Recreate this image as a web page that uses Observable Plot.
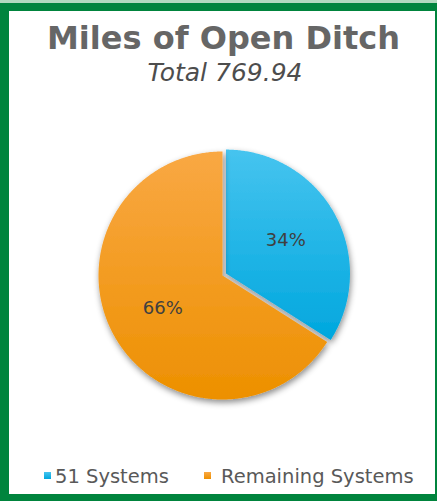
<!DOCTYPE html>
<html>
<head>
<meta charset="utf-8">
<script src="https://cdn.jsdelivr.net/npm/d3@7"></script>
<script src="https://cdn.jsdelivr.net/npm/@observablehq/plot@0.6"></script>
<style>
  html, body { margin: 0; padding: 0; }
  body { width: 437px; height: 501px; position: relative; overflow: hidden; background: #00843d; font-family: "DejaVu Sans", sans-serif; }
  #topline { position: absolute; left: 0; top: 0; width: 437px; height: 3px; background: #b2d9bf; }
  #panel { position: absolute; left: 9px; top: 11px; width: 426px; height: 483px; background: #ffffff; }
  .abs { position: absolute; line-height: 1; white-space: nowrap; }
  #title { left: 0; width: 447px; text-align: center; top: 22px; font-size: 32px; font-weight: bold; color: #666666; }
  #subtitle { left: 0; width: 450px; text-align: center; top: 60px; font-size: 25px; font-style: italic; color: #4d4d4d; }
  #chart { position: absolute; left: 0; top: 110px; }
  .sw { position: absolute; width: 7px; height: 7px; top: 472px; }
  .lg { top: 466.5px; font-size: 19.5px; color: #595959; }
</style>
</head>
<body>
<div id="topline"></div>
<div id="panel"></div>
<div id="title" class="abs">Miles of Open Ditch</div>
<div id="subtitle" class="abs">Total 769.94</div>
<div id="chart"></div>
<div id="legend"></div>
<script>
// ---- data ----
const categories = ["51 Systems", "Remaining Systems"];
const shares = [34, 66];
const labels = ["34%", "66%"];
const colorsTop = ["#46c4ef", "#f9a844"];
const colorsBottom = ["#00a7de", "#ed9000"];
const explode = [0.032, 0];
const legendX = [44, 204];
const legendTextX = [55, 221];

// ---- geometry from data ----
const arcs = d3.pie().sort(null)(shares);
const slices = [];
const labelPts = [];
const labelRadius = 0.55;
arcs.forEach((a, i) => {
  const mid = (a.startAngle + a.endAngle) / 2;
  const ox = explode[i] * Math.sin(mid), oy = explode[i] * Math.cos(mid);
  const pts = [{cat: categories[i], x: ox, y: oy}];
  const n = Math.ceil((a.endAngle - a.startAngle) / 0.01);
  for (let k = 0; k <= n; k++) {
    const t = a.startAngle + (a.endAngle - a.startAngle) * k / n;
    pts.push({cat: categories[i], x: ox + Math.sin(t), y: oy + Math.cos(t)});
  }
  slices.push(pts);
  labelPts.push({x: ox + labelRadius * Math.sin(mid), y: oy + labelRadius * Math.cos(mid), text: labels[i]});
});

const cx = 222, cy = 165, r = 124;
const plot = Plot.plot({
  width: 437,
  height: 340,
  margin: 0,
  style: {background: "transparent", overflow: "visible"},
  x: {domain: [-1, 1], range: [cx - r, cx + r], axis: null},
  y: {domain: [-1, 1], range: [cy + r, cy - r], axis: null},
  marks: [
    ...slices.map((pts, i) => Plot.line(pts, {
      x: "x", y: "y", curve: "linear-closed",
      fill: `url(#grad${i})`, stroke: "none"
    })),
    Plot.text(labelPts, {
      x: "x", y: "y", text: "text",
      fontSize: 18, fill: "#404040", fontFamily: "DejaVu Sans"
    })
  ]
});

// gradients + shadow
const defs = d3.create("svg:defs");
categories.forEach((c, i) => {
  const g = defs.append("linearGradient").attr("id", `grad${i}`)
    .attr("x1", 0).attr("y1", 0).attr("x2", 0).attr("y2", 1);
  g.append("stop").attr("offset", "0%").attr("stop-color", colorsTop[i]);
  g.append("stop").attr("offset", "100%").attr("stop-color", colorsBottom[i]);
});
const f = defs.append("filter").attr("id", "shadow")
  .attr("x", "-20%").attr("y", "-20%").attr("width", "140%").attr("height", "140%");
f.append("feDropShadow").attr("dx", 1).attr("dy", 3).attr("stdDeviation", 3)
  .attr("flood-color", "#000").attr("flood-opacity", 0.45);
plot.insertBefore(defs.node(), plot.firstChild);
plot.querySelectorAll('g[aria-label="line"]').forEach(g => g.setAttribute("filter", "url(#shadow)"));

document.getElementById("chart").appendChild(plot);

// legend
const legend = document.getElementById("legend");
categories.forEach((c, i) => {
  const s = document.createElement("div");
  s.className = "sw";
  s.style.left = legendX[i] + "px";
  s.style.background = `linear-gradient(${colorsTop[i]}, ${colorsBottom[i]})`;
  legend.appendChild(s);
  const t = document.createElement("div");
  t.className = "abs lg";
  t.style.left = legendTextX[i] + "px";
  t.textContent = c;
  legend.appendChild(t);
});
</script>
</body>
</html>
